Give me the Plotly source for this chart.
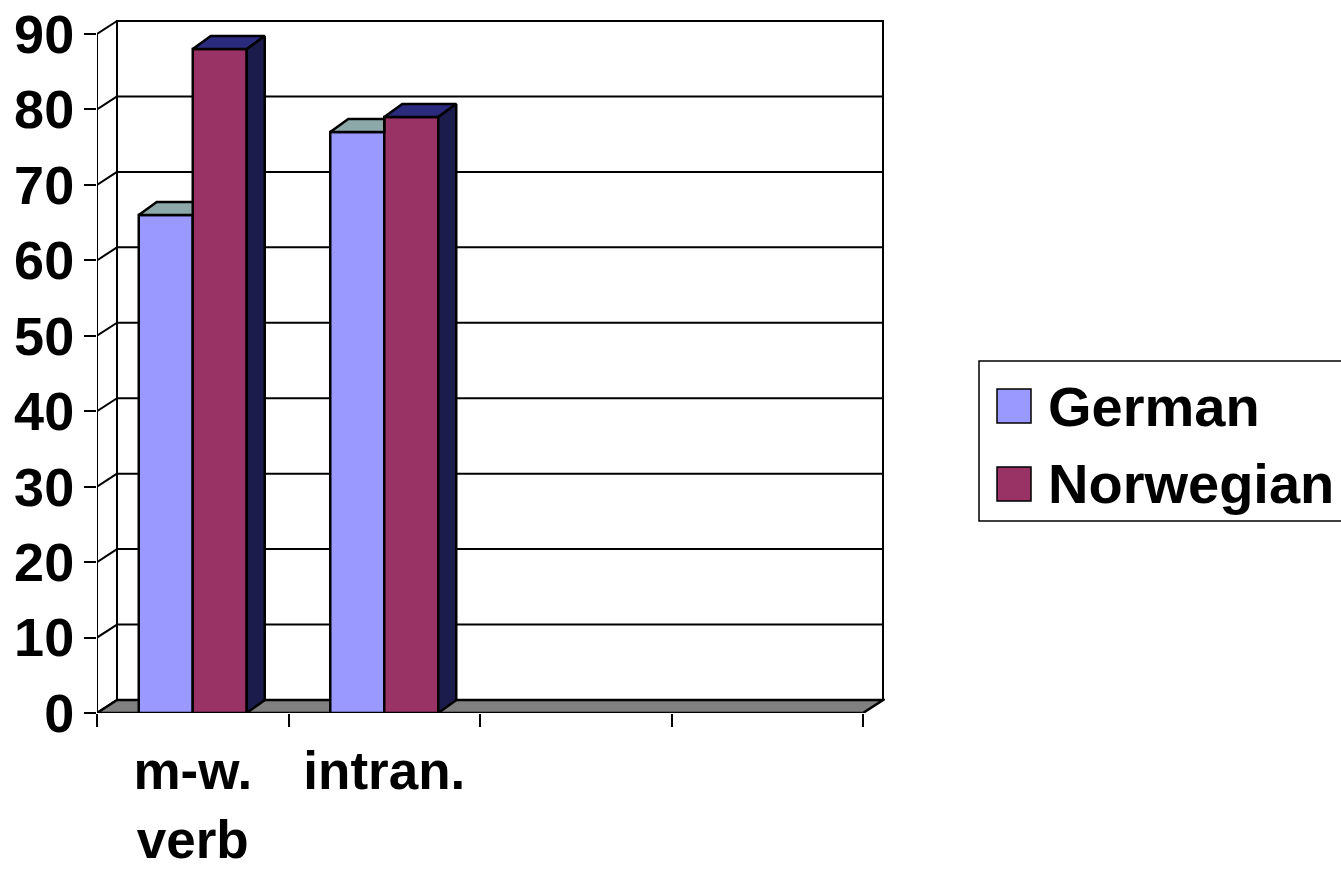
import plotly.graph_objects as go

# ---- data -------------------------------------------------------------
categories = ["m-w.<br>verb", "intran.", "", ""]
series_names = ["German", "Norwegian"]
german = [66, 77]          # m-w. verb, intran.
norwegian = [88, 79]
y_ticks = list(range(0, 100, 10))

german_front = "#9999FF"
german_top = "#8CA8A8"
norw_front = "#993366"
norw_top = "#2B2B7E"
norw_side = "#1C1C4C"
floor_col = "#808080"

# ---- geometry of the pseudo-3D box (axis units) ----------------------
W, H = 1341, 870
L, R, T, B = 97, 456, 16, 157
plot_w = W - L - R
plot_h = H - T - B
n_cat = len(categories)
px_per_x = 191.5
px_per_y = 679 / 90
x_max = plot_w / px_per_x
y_max = plot_h / px_per_y

wall_dx, wall_dy = 20 / px_per_x, 13 / px_per_y      # depth of floor / walls
bar_dx, bar_dy = 18 / px_per_x, 13 / px_per_y        # depth of each column
group_w = 0.564
bar_w = group_w / 2

FONT = "Liberation Sans, Arial"


def paper_x(px):
    return (px - L) / plot_w


def paper_y(py):
    return (H - B - py) / plot_h


fig = go.Figure()

# front faces of the columns
for name, vals, col, off in [(series_names[0], german, german_front, -bar_w),
                             (series_names[1], norwegian, norw_front, 0.0)]:
    fig.add_trace(go.Bar(
        name=name,
        x=[i + 0.5 for i in range(len(vals))],
        y=vals,
        width=bar_w,
        offset=off,
        marker=dict(color=col, line=dict(color="black", width=2.5)),
        showlegend=False,
        hoverinfo="skip",
    ))


def poly(xs, ys, fill):
    fig.add_trace(go.Scatter(
        x=xs + [xs[0]], y=ys + [ys[0]], mode="lines", fill="toself",
        fillcolor=fill, line=dict(color="black", width=2.5),
        showlegend=False, hoverinfo="skip"))


# top / side faces
for i in range(len(german)):
    c = i + 0.5
    g, n = german[i], norwegian[i]
    gx0, gx1 = c - bar_w, c
    nx0, nx1 = c, c + bar_w
    # German top, partly hidden behind the taller Norwegian column
    poly([gx0, gx1, gx1, gx0 + bar_dx], [g, g, g + bar_dy, g + bar_dy], german_top)
    # Norwegian top and right side
    poly([nx0, nx1, nx1 + bar_dx, nx0 + bar_dx], [n, n, n + bar_dy, n + bar_dy], norw_top)
    poly([nx1, nx1 + bar_dx, nx1 + bar_dx, nx1], [0, bar_dy, n + bar_dy, n], norw_side)

# ---- walls, floor and gridlines -------------------------------------
shapes = []
line_k = dict(color="black", width=2)
# back wall
shapes.append(dict(type="rect", xref="x", yref="y", x0=wall_dx, x1=n_cat + wall_dx,
                   y0=wall_dy, y1=y_ticks[-1] + wall_dy, line=line_k,
                   fillcolor="white", layer="below"))
for v in y_ticks[1:-1]:
    shapes.append(dict(type="line", xref="x", yref="y", x0=wall_dx, x1=n_cat + wall_dx,
                       y0=v + wall_dy, y1=v + wall_dy, line=line_k, layer="below"))
# left wall: front edge and diagonals
shapes.append(dict(type="line", xref="x", yref="y", x0=0, x1=0, y0=0,
                   y1=y_ticks[-1], line=line_k, layer="below"))
for v in y_ticks:
    shapes.append(dict(type="line", xref="x", yref="y", x0=0, x1=wall_dx,
                       y0=v, y1=v + wall_dy, line=line_k, layer="below"))
# floor
shapes.append(dict(type="path", xref="x", yref="y",
                   path=f"M 0,0 L {n_cat},0 L {n_cat + wall_dx},{wall_dy} "
                        f"L {wall_dx},{wall_dy} Z",
                   fillcolor=floor_col, line=dict(color="black", width=2.5),
                   layer="below"))

# ---- legend box ------------------------------------------------------
shapes.append(dict(type="rect", xref="paper", yref="paper",
                   x0=paper_x(979), x1=paper_x(1360), y0=paper_y(521), y1=paper_y(361),
                   line=dict(color="black", width=1.5), fillcolor="white"))
annotations = []
for k, (name, col) in enumerate(zip(series_names, [german_front, norw_front])):
    cy = 406 + 78 * k
    shapes.append(dict(type="rect", xref="paper", yref="paper",
                       x0=paper_x(997), x1=paper_x(1031),
                       y0=paper_y(cy + 17), y1=paper_y(cy - 17),
                       line=dict(color="black", width=1.5), fillcolor=col))
    annotations.append(dict(xref="paper", yref="paper", x=paper_x(1046), y=paper_y(cy),
                            xanchor="left", yanchor="middle", showarrow=False,
                            text=name,
                            font=dict(family=FONT, size=56, color="black",
                                      weight="bold")))

y_tick_font = dict(family=FONT, size=54, color="black", weight="bold")
x_tick_font = dict(family=FONT, size=53, color="black", weight="bold")

fig.update_layout(
    width=W, height=H,
    margin=dict(l=L, r=R, t=T, b=B, pad=0),
    paper_bgcolor="white", plot_bgcolor="white",
    barmode="overlay",
    shapes=shapes,
    annotations=annotations,
    showlegend=False,
    xaxis=dict(range=[0, x_max], showgrid=False, zeroline=False, showline=False,
               automargin=False,
               tickmode="array", tickvals=[i + 0.5 for i in range(n_cat)],
               ticktext=categories, ticks="", tickfont=x_tick_font,
               ticklabelstandoff=22,
               minor=dict(tick0=0, dtick=1, ticks="outside", ticklen=13,
                          tickwidth=2, tickcolor="black", showgrid=False)),
    yaxis=dict(range=[0, y_max], showgrid=False, zeroline=False, showline=False,
               automargin=False,
               tickmode="array", tickvals=y_ticks, ticks="outside", ticklen=12,
               tickwidth=2, tickcolor="black", tickfont=y_tick_font,
               ticklabelstandoff=-1),
)

fig.write_html("out.html")
